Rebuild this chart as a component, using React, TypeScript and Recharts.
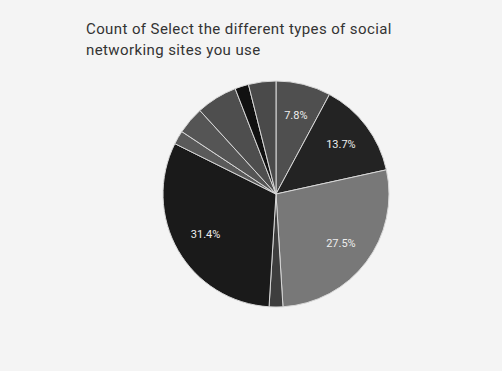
import React from 'react';
import { PieChart, Pie, Cell } from 'recharts';

const sites = ['Site A', 'Site B', 'Site C', 'Site D', 'Site E', 'Site F', 'Site G', 'Site H', 'Site I', 'Site J'];
const counts = [4, 7, 14, 1, 16, 1, 2, 3, 1, 2];
const colors = ['#4f4f4f', '#232323', '#787878', '#3e3e3e', '#1a1a1a', '#5a5a5a', '#555555', '#4e4e4e', '#111111', '#4a4a4a'];

const data = sites.map((name, i) => ({ name, value: counts[i] }));

const RAD = Math.PI / 180;

const renderLabel = (props: any) => {
  const { cx, cy, midAngle, outerRadius, percent } = props;
  if (percent < 0.07) return null;
  const r = outerRadius * 0.72;
  const x = cx + r * Math.cos(-midAngle * RAD);
  const y = cy + r * Math.sin(-midAngle * RAD);
  return (
    <text x={x} y={y} fill="#eeeeee" fontSize={11} fontFamily="Roboto" textAnchor="middle" dominantBaseline="central">
      {(percent * 100).toFixed(1)}%
    </text>
  );
};

export default function App() {
  return (
    <div style={{ position: 'absolute', left: 0, top: 0, width: 502, height: 371, background: '#f4f4f4' }}>
      <div style={{ position: 'absolute', left: 86, top: 19, width: 340, fontFamily: 'Roboto', fontSize: 15, letterSpacing: 0.4, lineHeight: '21px', color: '#333' }}>
        Count of Select the different types of social networking sites you use
      </div>
      <PieChart width={502} height={371} style={{ position: 'absolute', left: 0, top: 0 }}>
        <Pie
          data={data}
          dataKey="value"
          nameKey="name"
          cx={271}
          cy={189}
          outerRadius={113}
          startAngle={90}
          endAngle={-270}
          stroke="#d8d8d8"
          strokeWidth={1}
          label={renderLabel}
          labelLine={false}
          isAnimationActive={false}
        >
          {data.map((d, i) => (
            <Cell key={d.name} fill={colors[i]} />
          ))}
        </Pie>
      </PieChart>
    </div>
  );
}
